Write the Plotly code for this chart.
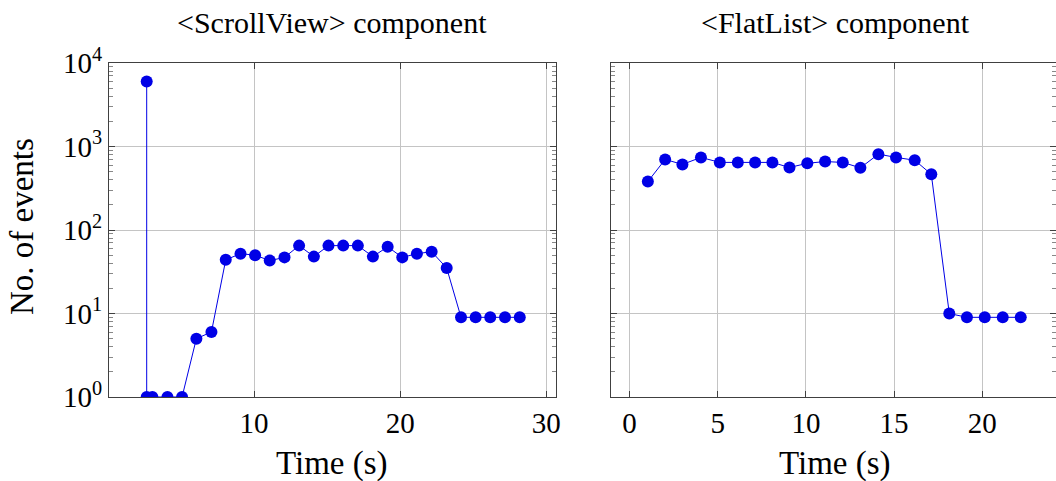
import plotly.graph_objects as go

# ScrollView component
sv_time = [2.65, 2.65, 3.04, 4.07, 5.07, 6.05, 7.08, 8.06, 9.07, 10.07, 11.07, 12.08, 13.08,
           14.09, 15.09, 16.10, 17.10, 18.13, 19.14, 20.14, 21.14, 22.15, 23.18, 24.16,
           25.16, 26.16, 27.17, 28.18]
sv_events = [6000, 1, 1, 1, 1, 5, 6, 44, 52, 50, 43, 47, 65, 48, 65, 65, 65, 48, 63, 47,
             52, 55, 35, 9, 9, 9, 9, 9]

# FlatList component
fl_time = [1.04, 2.02, 3.00, 4.05, 5.12, 6.14, 7.12, 8.10, 9.07, 10.08, 11.09, 12.09, 13.09,
           14.11, 15.11, 16.17, 17.11, 18.13, 19.13, 20.14, 21.16, 22.18]
fl_events = [380, 700, 610, 740, 645, 645, 645, 645, 560, 630, 660, 645, 555, 810, 740, 685,
             465, 10, 9, 9, 9, 9]

y_ticks = [1, 10, 100, 1000, 10000]
y_ticktext = ["10<sup>0</sup>", "10<sup>1</sup>", "10<sup>2</sup>", "10<sup>3</sup>", "10<sup>4</sup>"]
sv_xticks = [10, 20, 30]
fl_xticks = [0, 5, 10, 15, 20]
minor_vals = [m * d for d in y_ticks[:-1] for m in range(2, 10)]

FONT = "Liberation Serif"
BLUE = "#0000e6"
FRAME = "#404040"
GRID = "#c4c4c4"
W, H = 1056, 481

fig = go.Figure()
fig.add_trace(go.Scatter(x=sv_time, y=sv_events, mode="lines+markers",
                         line=dict(color=BLUE, width=1),
                         marker=dict(color=BLUE, size=12), xaxis="x", yaxis="y",
                         showlegend=False))
fig.add_trace(go.Scatter(x=fl_time, y=fl_events, mode="lines+markers",
                         line=dict(color=BLUE, width=1),
                         marker=dict(color=BLUE, size=12), xaxis="x2", yaxis="y2",
                         showlegend=False))

ydom = [1 - 397 / H, 1 - 63 / H]
common_x = dict(showgrid=True, gridcolor=GRID, gridwidth=1, showline=True, linecolor=FRAME,
                linewidth=1.2, mirror="ticks", ticks="inside", ticklen=6, tickcolor=FRAME,
                zeroline=False, automargin=False,
                tickfont=dict(family=FONT, size=29, color="black"))
common_y = dict(type="log", range=[0, 4], domain=ydom, tickvals=y_ticks,
                showgrid=True, gridcolor=GRID, gridwidth=1, showline=True, linecolor=FRAME,
                linewidth=1.2, mirror="ticks", ticks="inside", ticklen=6, tickcolor=FRAME,
                zeroline=False, automargin=False,
                minor=dict(tickmode="array", tickvals=minor_vals, ticks="inside", ticklen=4,
                           tickcolor="#888888", showgrid=False))

label_font = dict(family=FONT, size=33, color="black")
title_font = dict(family=FONT, size=30, color="black")


def ann(text, px, py, font, angle=0):
    return dict(text=text, x=px / W, y=1 - py / H, xref="paper", yref="paper",
                showarrow=False, xanchor="center", yanchor="middle", font=font,
                textangle=angle)


fig.update_layout(
    width=W, height=H,
    margin=dict(l=0, r=0, t=0, b=0, autoexpand=False),
    paper_bgcolor="white", plot_bgcolor="white",
    font=dict(family=FONT, color="black"),
    xaxis=dict(domain=[109 / W, 556 / W], range=[0.07, 30.66], tickvals=sv_xticks,
               anchor="y", **common_x),
    xaxis2=dict(domain=[611 / W, 1.0], range=[-1.05, 24.18], tickvals=fl_xticks,
                anchor="y2", **common_x),
    yaxis=dict(anchor="x", ticktext=y_ticktext, showticklabels=True,
               tickfont=dict(family=FONT, size=29, color="black"), **common_y),
    yaxis2=dict(anchor="x2", showticklabels=False, **common_y),
    annotations=[
        ann("&lt;ScrollView&gt; component", 332, 22, title_font),
        ann("&lt;FlatList&gt; component", 835, 22, title_font),
        ann("Time (s)", 332, 463, label_font),
        ann("Time (s)", 835, 463, label_font),
        ann("No. of events", 22, 227, label_font, -90),
    ],
)

fig.write_html("out.html", config={"displayModeBar": False},
               post_script="document.body.style.margin='0px';")
